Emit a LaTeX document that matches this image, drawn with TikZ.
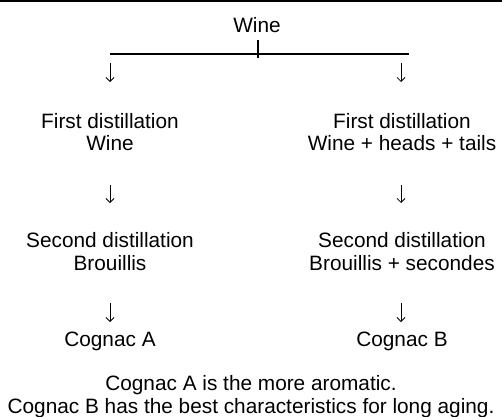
\documentclass[tikz,border=0pt]{standalone}
\usepackage{fontspec}
\setmainfont{Liberation Sans}
\usetikzlibrary{arrows.meta}
\begin{document}
\begin{tikzpicture}[x=1pt,y=1pt,
  txt/.style={anchor=base,inner sep=0pt,font=\fontsize{20.8}{24}\selectfont},
  down/.style={line width=0.8pt,-{Straight Barb[length=4pt,width=8pt,line width=0.8pt]}},
  rule/.style={line width=2.5pt}]
\useasboundingbox (0,0) rectangle (502,-416);
% top rule
\coordinate (rl) at (0,-1.2);
\coordinate (rr) at (502,-1.2);
\draw[rule] (rl) -- (rr);
% top
\node[txt] (wine) at (257,-32) {Wine};
\coordinate (bl) at (110,-54);
\coordinate (br) at (409,-54);
\coordinate (tt) at (258,-40);
\coordinate (tb) at (258,-58);
\draw[line width=1.5pt] (bl) -- (br);
\draw[line width=2pt] (tt) -- (tb);
% left column
\node[txt] (fdl) at (110,-128) {First distillation};
\node[txt] (fwl) at (110,-150) {Wine};
\node[txt] (sdl) at (110,-247) {Second distillation};
\node[txt] (sbl) at (110,-270) {Brouillis};
\node[txt] (cgl) at (110,-346) {Cognac A};
% right column
\node[txt] (fdr) at (402,-128) {First distillation};
\node[txt] (fwr) at (402,-150) {Wine + heads + tails};
\node[txt] (sdr) at (402,-247) {Second distillation};
\node[txt] (sbr) at (402,-270) {Brouillis + secondes};
\node[txt] (cgr) at (402,-346) {Cognac B};
% arrows
\coordinate (a1ls) at (110,-63);  \coordinate (a1le) at (110,-82);
\coordinate (a1rs) at (401,-63);  \coordinate (a1re) at (401,-82);
\coordinate (a2ls) at (110,-185); \coordinate (a2le) at (110,-203);
\coordinate (a2rs) at (401,-185); \coordinate (a2re) at (401,-203);
\coordinate (a3ls) at (110,-303); \coordinate (a3le) at (110,-322);
\coordinate (a3rs) at (401,-303); \coordinate (a3re) at (401,-322);
\draw[down] (a1ls) -- (a1le);
\draw[down] (a1rs) -- (a1re);
\draw[down] (a2ls) -- (a2le);
\draw[down] (a2rs) -- (a2re);
\draw[down] (a3ls) -- (a3le);
\draw[down] (a3rs) -- (a3re);
% bottom
\node[txt] (n1) at (251,-390) {Cognac A is the more aromatic.};
\node[txt] (n2) at (251,-413) {Cognac B has the best characteristics for long aging.};
\end{tikzpicture}
\end{document}
